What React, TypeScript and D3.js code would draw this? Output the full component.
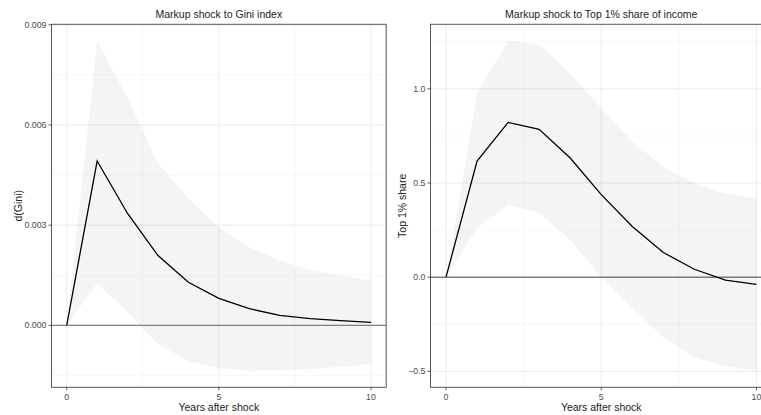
import React from 'react';
import * as d3 from 'd3';

// impulse responses, years 0..10
const years = [0, 1, 2, 3, 4, 5, 6, 7, 8, 9, 10];

const giniMean = [0, 0.00492, 0.00335, 0.00209, 0.00129, 0.00081, 0.0005, 0.0003, 0.0002, 0.00014, 0.00009];
const giniUpper = [0, 0.00852, 0.0068, 0.00486, 0.0038, 0.00294, 0.00234, 0.00194, 0.00166, 0.00149, 0.00134];
const giniLower = [0, 0.00126, 0.00039, -0.00056, -0.00108, -0.00128, -0.00136, -0.00134, -0.00131, -0.00124, -0.00116];

const topMean = [0, 0.617, 0.822, 0.785, 0.633, 0.438, 0.269, 0.131, 0.042, -0.016, -0.038];
const topUpper = [0, 0.975, 1.255, 1.237, 1.081, 0.897, 0.721, 0.588, 0.5, 0.443, 0.42];
const topLower = [0, 0.26, 0.385, 0.34, 0.198, 0.0, -0.165, -0.32, -0.426, -0.473, -0.497];

const xTicks = [0, 5, 10];
const xMinor = [2.5, 7.5];
const giniTicks = [0, 0.003, 0.006, 0.009];
const giniMinor = [-0.0015, 0.0015, 0.0045, 0.0075];
const topTicks = [-0.5, 0, 0.5, 1.0];
const topMinor = [-0.25, 0.25, 0.75, 1.25];

const FONT = 'Liberation Sans, Arial, sans-serif';

type PanelProps = {
  left: number; right: number; top: number; bottom: number;
  title: string; ylab: string; ylabX: number;
  mean: number[]; upper: number[]; lower: number[];
  yTicks: number[]; yMinor: number[]; fmt: (v: number) => string;
  zeroColor: string; zeroWidth: number;
};

const Panel = (p: PanelProps) => {
  const x = d3.scaleLinear().domain([-0.5, 10.5]).range([p.left, p.right]);
  const lo = d3.min(p.lower) as number;
  const hi = d3.max(p.upper) as number;
  const pad = (hi - lo) * 0.05;
  const y = d3.scaleLinear().domain([lo - pad, hi + pad]).range([p.bottom, p.top]);

  const area = d3.area<number>()
    .x((d, i) => x(years[i]))
    .y0((d, i) => y(p.lower[i]))
    .y1((d) => y(d));
  const line = d3.line<number>()
    .x((d, i) => x(years[i]))
    .y((d) => y(d));

  const clipId = 'clip' + Math.round(p.left);
  const cx = (p.left + p.right) / 2;
  const cy = (p.top + p.bottom) / 2;

  return (
    <g>
      <clipPath id={clipId}>
        <rect x={p.left} y={p.top} width={p.right - p.left} height={p.bottom - p.top} />
      </clipPath>
      <g clipPath={`url(#${clipId})`}>
        {xMinor.map(t => (
          <line key={'xm' + t} x1={x(t)} x2={x(t)} y1={p.top} y2={p.bottom} stroke="#f2f2f2" strokeWidth={0.6} />
        ))}
        {p.yMinor.map(t => (
          <line key={'ym' + t} x1={p.left} x2={p.right} y1={y(t)} y2={y(t)} stroke="#f2f2f2" strokeWidth={0.6} />
        ))}
        {xTicks.map(t => (
          <line key={'xg' + t} x1={x(t)} x2={x(t)} y1={p.top} y2={p.bottom} stroke="#ebebeb" strokeWidth={1} />
        ))}
        {p.yTicks.map(t => (
          <line key={'yg' + t} x1={p.left} x2={p.right} y1={y(t)} y2={y(t)} stroke="#ebebeb" strokeWidth={1} />
        ))}
        <path d={area(p.upper) || ''} fill="#000" fillOpacity={0.045} />
        <line x1={p.left} x2={p.right} y1={y(0)} y2={y(0)} stroke={p.zeroColor} strokeWidth={p.zeroWidth} />
        <path d={line(p.mean) || ''} fill="none" stroke="#000" strokeWidth={1.3} />
      </g>
      <rect x={p.left} y={p.top} width={p.right - p.left} height={p.bottom - p.top}
        fill="none" stroke="#555" strokeWidth={1} />
      {xTicks.map(t => (
        <g key={'xt' + t}>
          <line x1={x(t)} x2={x(t)} y1={p.bottom} y2={p.bottom + 3} stroke="#333" strokeWidth={0.8} />
          <text x={x(t)} y={p.bottom + 12.5} textAnchor="middle" fontSize={8.8} fill="#4d4d4d" fontFamily={FONT}>{t}</text>
        </g>
      ))}
      {p.yTicks.map(t => (
        <g key={'yt' + t}>
          <line x1={p.left - 3} x2={p.left} y1={y(t)} y2={y(t)} stroke="#333" strokeWidth={0.8} />
          <text x={p.left - 5} y={y(t) + 3.1} textAnchor="end" fontSize={8.8} fill="#4d4d4d" fontFamily={FONT}>{p.fmt(t)}</text>
        </g>
      ))}
      <text x={cx} y={17.5} textAnchor="middle" fontSize={10.5} fill="#222" fontFamily={FONT}>{p.title}</text>
      <text x={cx} y={411} textAnchor="middle" fontSize={10.5} fill="#222" fontFamily={FONT}>Years after shock</text>
      <text transform={`translate(${p.ylabX},${cy}) rotate(-90)`} textAnchor="middle" fontSize={10.5} fill="#222" fontFamily={FONT}>{p.ylab}</text>
    </g>
  );
};

export default function App() {
  return (
    <svg width={761} height={415} style={{ position: 'absolute', left: 0, top: 0, background: '#fff' }}>
      <rect width={761} height={415} fill="#fff" />
      <Panel left={51.5} right={386.2} top={24.3} bottom={387.3}
        title="Markup shock to Gini index" ylab="d(Gini)" ylabX={21.5}
        mean={giniMean} upper={giniUpper} lower={giniLower}
        yTicks={giniTicks} yMinor={giniMinor} fmt={d3.format('.3f')}
        zeroColor="#808080" zeroWidth={1.3} />
      <Panel left={430.5} right={772} top={24.3} bottom={387.3}
        title="Markup shock to Top 1% share of income" ylab="Top 1% share" ylabX={406}
        mean={topMean} upper={topUpper} lower={topLower}
        yTicks={topTicks} yMinor={topMinor} fmt={d3.format('.1f')}
        zeroColor="#444" zeroWidth={1} />
    </svg>
  );
}
